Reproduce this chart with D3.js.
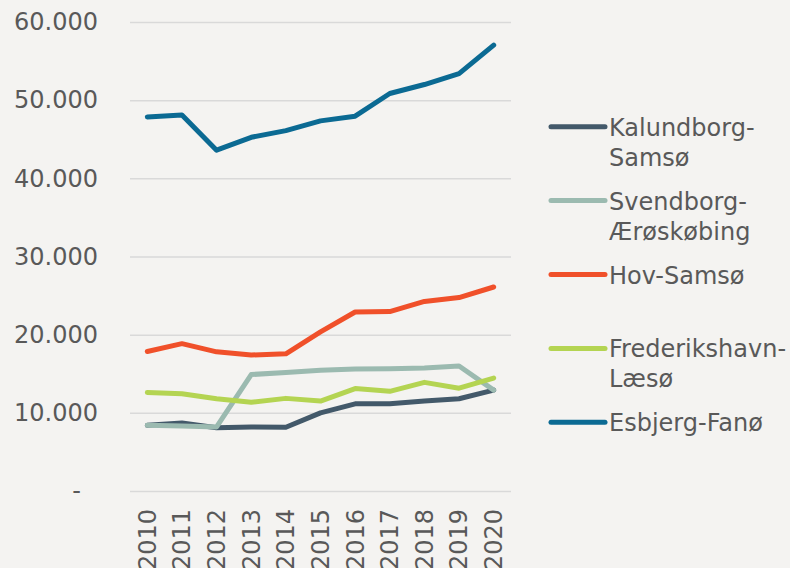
<!DOCTYPE html>
<html>
<head>
<meta charset="utf-8">
<script src="https://cdn.jsdelivr.net/npm/d3@7"></script>
<style>
  html, body { margin: 0; padding: 0; background: #f4f3f1; }
  svg { display: block; font-family: "DejaVu Sans", Verdana, sans-serif; }
  .grid line { stroke: #d9d9d9; stroke-width: 1.5; }
  .grid .domain { display: none; }
  text { fill: #595959; }
</style>
</head>
<body>
<svg id="chart" width="790" height="568"></svg>
<script>
// data
const years = ["2010","2011","2012","2013","2014","2015","2016","2017","2018","2019","2020"];
const yTicks = [0, 10000, 20000, 30000, 40000, 50000, 60000];

const kalundborgSamso = [8400, 8700, 8100, 8200, 8150, 10000, 11150, 11150, 11500, 11800, 12900];
const svendborgAeroskobing = [8400, 8300, 8200, 14900, 15150, 15450, 15600, 15650, 15750, 16000, 12900];
const hovSamso = [17850, 18850, 17800, 17400, 17550, 20350, 22900, 22950, 24250, 24750, 26100];
const frederikshavnLaeso = [12600, 12450, 11800, 11350, 11850, 11500, 13100, 12750, 13900, 13150, 14450];
const esbjergFano = [47850, 48100, 43600, 45250, 46100, 47350, 47950, 50850, 52000, 53400, 57050];

const seriesNames = ["Kalundborg-Samsø", "Svendborg-Ærøskøbing", "Hov-Samsø", "Frederikshavn-Læsø", "Esbjerg-Fanø"];
const legendLines = [["Kalundborg-", "Samsø"], ["Svendborg-", "Ærøskøbing"], ["Hov-Samsø"], ["Frederikshavn-", "Læsø"], ["Esbjerg-Fanø"]];
const seriesValues = [kalundborgSamso, svendborgAeroskobing, hovSamso, frederikshavnLaeso, esbjergFano];
const seriesColors = ["#43596a", "#9bbab0", "#f0502a", "#b4d452", "#0b6a93"];

const fontSize = 24;
const svg = d3.select("#chart");
const plotLeft = 130, plotRight = 511, plotTop = 22, plotBottom = 491;

const x = d3.scaleBand().domain(years).range([plotLeft, plotRight]).padding(0);
const y = d3.scaleLinear().domain([0, 60000]).range([plotBottom, plotTop]);

const locale = d3.formatLocale({ decimal: ",", thousands: ".", grouping: [3], currency: ["", ""] });
const fmt = locale.format(",.0f");

// y axis + gridlines
const yAxis = svg.append("g")
    .attr("class", "grid")
    .attr("transform", `translate(${plotLeft},0)`)
    .call(d3.axisLeft(y).tickValues(yTicks).tickSize(-(plotRight - plotLeft)).tickPadding(32)
        .tickFormat(d => d === 0 ? "-" : fmt(d)));
yAxis.selectAll("text")
    .attr("font-size", fontSize)
    .attr("font-family", "DejaVu Sans, Verdana, sans-serif")
    .style("fill", "#595959")
    .attr("dx", d => d === 0 ? -17 : 0);

// x labels, rotated
svg.append("g").selectAll("text")
  .data(years)
  .join("text")
    .attr("transform", d => `translate(${x(d) + x.bandwidth() / 2},509) rotate(-90)`)
    .attr("text-anchor", "end")
    .attr("dy", "0.35em")
    .attr("font-size", fontSize)
    .text(d => d);

// lines
const line = d3.line()
    .x((d, i) => x(years[i]) + x.bandwidth() / 2)
    .y(d => y(d));

svg.append("g").selectAll("path")
  .data(seriesValues)
  .join("path")
    .attr("d", line)
    .attr("fill", "none")
    .attr("stroke", (d, i) => seriesColors[i])
    .attr("stroke-width", 5)
    .attr("stroke-linejoin", "round")
    .attr("stroke-linecap", "round");

// legend
const legend = svg.append("g").selectAll("g")
  .data(seriesNames)
  .join("g")
    .attr("transform", (d, i) => `translate(550,${126.7 + i * 73.9})`);

legend.append("line")
    .attr("x1", 1).attr("x2", 55)
    .attr("stroke", (d, i) => seriesColors[i])
    .attr("stroke-width", 5)
    .attr("stroke-linecap", "round");

legend.append("text")
    .attr("x", 59)
    .attr("font-size", fontSize)
    .selectAll("tspan")
    .data((d, i) => legendLines[i])
    .join("tspan")
      .attr("x", 59)
      .attr("y", (d, j) => 9 + j * 30)
      .text(d => d);
</script>
</body>
</html>
